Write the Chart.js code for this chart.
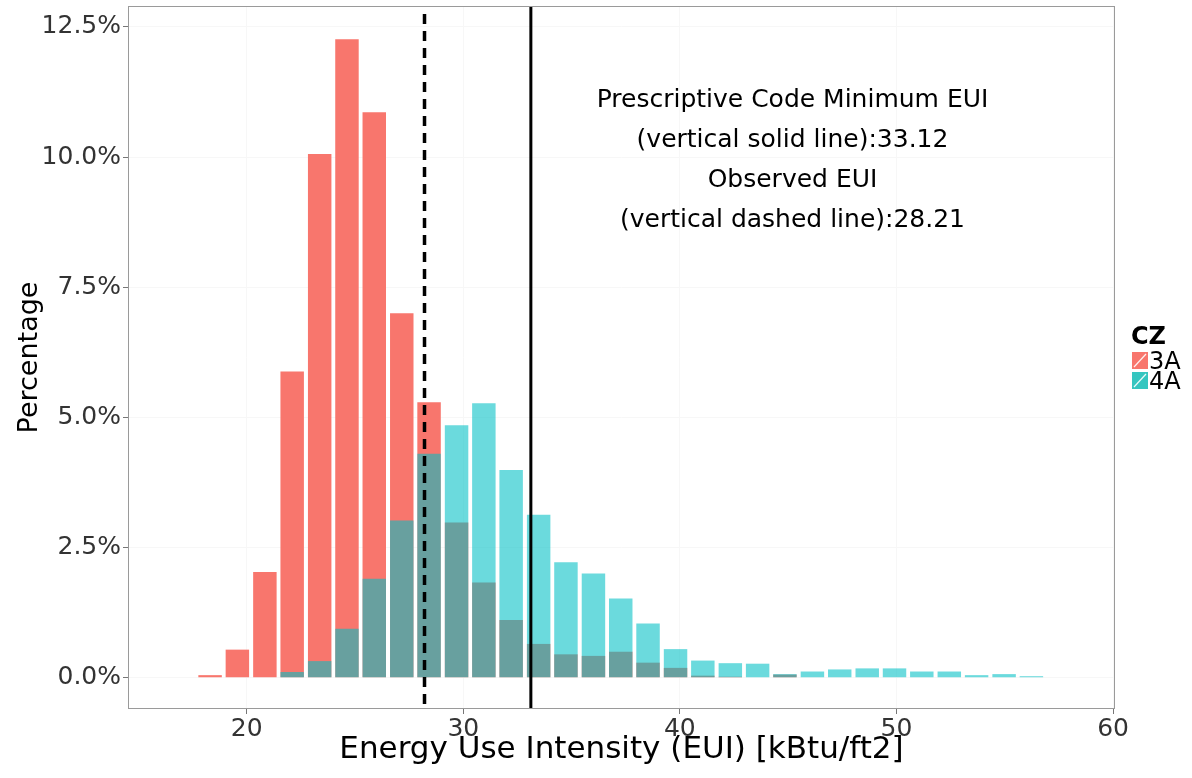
<!DOCTYPE html>
<html>
<head>
<meta charset="utf-8">
<script src="https://cdn.jsdelivr.net/npm/chart.js@4.4.0/dist/chart.umd.min.js"></script>
<style>
  html, body { margin: 0; padding: 0; background: #fff; }
  #wrap { width: 1192px; height: 778px; }
</style>
</head>
<body>
<div id="wrap"><canvas id="euiChart" width="1192" height="778"></canvas></div>
<script>
// histogram bin centres (kBtu/ft2)
const binCenters = [18.31, 19.57, 20.84, 22.10, 23.37, 24.63, 25.89, 27.16, 28.42, 29.69,
                    30.95, 32.21, 33.48, 34.74, 36.01, 37.27, 38.53, 39.80, 41.06, 42.33,
                    43.59, 44.85, 46.12, 47.38, 48.65, 49.91, 51.17, 52.44, 53.70, 54.97, 56.23];
// percentage of all buildings, per climate zone
const pct3A = [0.05, 0.54, 2.03, 5.88, 10.06, 12.26, 10.86, 7.00, 5.29, 2.98,
               1.83, 1.11, 0.65, 0.45, 0.42, 0.50, 0.29, 0.19, 0.04, 0.02,
               0.01, 0.06, 0.01, 0, 0, 0, 0, 0, 0, 0, 0];
const pct4A = [0, 0, 0, 0.11, 0.32, 0.94, 1.90, 3.02, 4.30, 4.85,
               5.27, 3.99, 3.13, 2.22, 2.00, 1.52, 1.04, 0.55, 0.33, 0.28,
               0.27, 0.07, 0.12, 0.16, 0.18, 0.18, 0.12, 0.12, 0.05, 0.07, 0.03];
const zoneLabels = ["3A", "4A"];
const xTicks = [20, 30, 40, 50, 60];
const yTicks = [0, 2.5, 5, 7.5, 10, 12.5];
const observedEUI = 28.21;
const codeMinEUI = 33.12;
const noteLines = ["Prescriptive Code Minimum EUI", "(vertical solid line):33.12",
                   "Observed EUI", "(vertical dashed line):28.21"];

const FONT = "'DejaVu Sans', sans-serif";

const toPoints = vals => vals.map((v, i) => ({ x: binCenters[i], y: v }));

const extras = {
  id: "extras",
  afterDatasetsDraw(chart) {
    const { ctx, chartArea: a, scales: { x } } = chart;
    ctx.save();
    ctx.strokeStyle = "#000";
    // observed (dashed)
    let px = x.getPixelForValue(observedEUI);
    ctx.lineWidth = 3.5;
    ctx.setLineDash([10, 7]);
    ctx.beginPath(); ctx.moveTo(px, a.top + 8); ctx.lineTo(px, a.bottom); ctx.stroke();
    // code minimum (solid)
    px = x.getPixelForValue(codeMinEUI);
    ctx.lineWidth = 3;
    ctx.setLineDash([]);
    ctx.beginPath(); ctx.moveTo(px, a.top); ctx.lineTo(px, a.bottom); ctx.stroke();
    // panel border
    ctx.lineWidth = 1;
    ctx.strokeStyle = "#9a9a9a";
    ctx.strokeRect(a.left + 0.5, a.top + 0.5, a.right - a.left - 1, a.bottom - a.top - 1);
    ctx.restore();
  },
  afterDraw(chart) {
    const { ctx, chartArea: a, scales: { x } } = chart;
    ctx.save();
    // annotation
    ctx.fillStyle = "#000";
    ctx.font = "25px " + FONT;
    ctx.textAlign = "center";
    ctx.textBaseline = "alphabetic";
    const cx = x.getPixelForValue(45.2);
    noteLines.forEach((t, i) => ctx.fillText(t, cx, a.top + 101 + i * 40));
    // legend
    const lx = a.right + 17;
    ctx.textAlign = "left";
    ctx.font = "bold 24px " + FONT;
    ctx.fillText("CZ", lx - 1, 344);
    const keyFill = ["#F8766D", "#35C6C0"];
    chart.data.datasets.forEach((ds, i) => {
      const ky = 352 + i * 20;
      ctx.fillStyle = keyFill[i];
      ctx.fillRect(lx, ky, 16, 17);
      ctx.strokeStyle = "rgba(255,255,255,0.9)";
      ctx.lineWidth = 1.2;
      ctx.beginPath(); ctx.moveTo(lx + 2, ky + 15); ctx.lineTo(lx + 14, ky + 2); ctx.stroke();
      ctx.fillStyle = "#000";
      ctx.font = "24px " + FONT;
      ctx.fillText(ds.label, lx + 17, ky + 17);
    });
    ctx.restore();
  }
};

const noEdgePadding = s => {
  s.paddingTop = 0; s.paddingBottom = 0; s.paddingLeft = 0; s.paddingRight = 0;
};

new Chart(document.getElementById("euiChart"), {
  type: "bar",
  data: {
    datasets: [
      {
        label: zoneLabels[0],
        data: toPoints(pct3A),
        backgroundColor: "rgba(248,118,109,1)",
        borderWidth: 0,
        order: 1
      },
      {
        label: zoneLabels[1],
        data: toPoints(pct4A),
        backgroundColor: "rgba(0,191,196,0.58)",
        borderWidth: 0,
        order: 0
      }
    ]
  },
  options: {
    responsive: false,
    animation: false,
    devicePixelRatio: 1,
    layout: { padding: { left: 0, top: 6, right: 77, bottom: 0 } },
    datasets: { bar: { grouped: false, barPercentage: 0.86, categoryPercentage: 1 } },
    plugins: { legend: { display: false }, tooltip: { enabled: false } },
    scales: {
      x: {
        type: "linear",
        offset: false,
        min: 14.52,
        max: 60.09,
        afterBuildTicks: s => { s.ticks = xTicks.map(v => ({ value: v })); },
        afterFit: s => { s.height = 69; noEdgePadding(s); },
        grid: { offset: false, color: "#f7f7f7", tickColor: "#777", tickLength: 5, drawTicks: true },
        border: { display: false },
        ticks: { color: "#333", font: { family: FONT, size: 25 }, padding: 0, maxRotation: 0 },
        title: {
          display: true,
          text: "Energy Use Intensity (EUI) [kBtu/ft2]",
          color: "#000",
          font: { family: FONT, size: 31 },
          padding: { top: 0, bottom: 9 }
        }
      },
      y: {
        min: -0.6,
        max: 12.9,
        afterBuildTicks: s => { s.ticks = yTicks.map(v => ({ value: v })); },
        afterFit: s => { s.width = 128; noEdgePadding(s); },
        grid: { color: "#f7f7f7", tickColor: "#777", tickLength: 5, drawTicks: true },
        border: { display: false },
        ticks: {
          color: "#333",
          font: { family: FONT, size: 25 },
          padding: 2,
          callback: v => v.toFixed(1) + "%"
        },
        title: {
          display: true,
          text: "Percentage",
          color: "#000",
          font: { family: FONT, size: 27 },
          padding: { top: 14, bottom: 0 }
        }
      }
    }
  },
  plugins: [extras]
});
</script>
</body>
</html>
